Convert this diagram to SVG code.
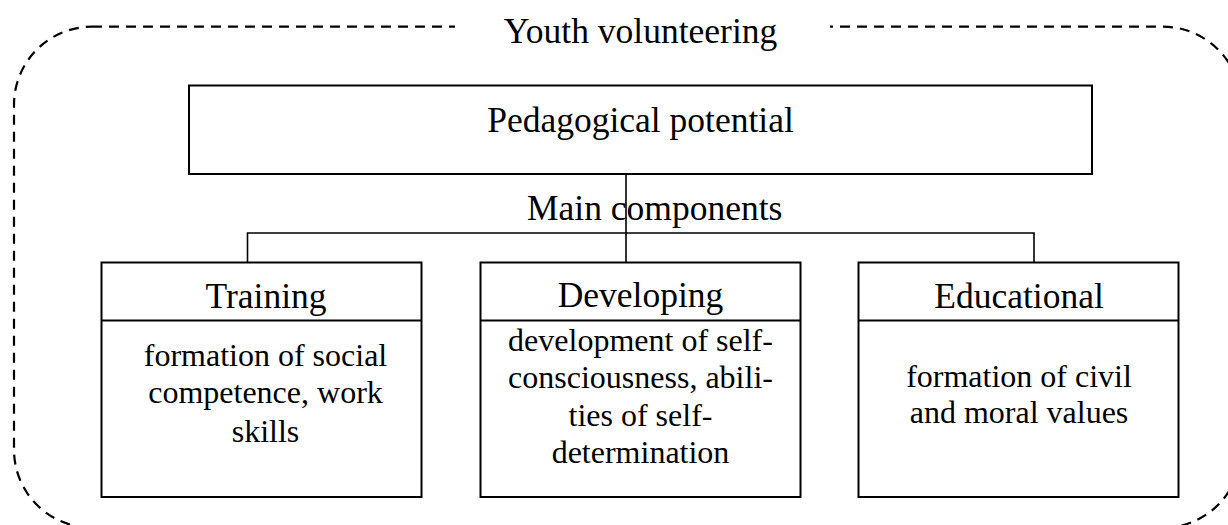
<svg xmlns="http://www.w3.org/2000/svg" width="1228" height="525" viewBox="0 0 1228 525">
<style>
text{font-family:"Liberation Serif","Times New Roman",serif;fill:#000}
.t{font-size:35.5px}
.h{font-size:35.5px;text-anchor:middle}
.b{font-size:32px;text-anchor:middle}
.box{fill:#fff;stroke:#000;stroke-width:2}
.div{stroke:#000;stroke-width:2}
.con{fill:none;stroke:#000;stroke-width:1.6}
</style>
<rect width="1228" height="525" fill="#fff"/>
<g id="frame">
<rect x="14" y="26.7" width="1227" height="501" rx="78" ry="78" fill="none" stroke="#000" stroke-width="2.2" stroke-dasharray="10 7"/>
<rect x="455" y="15" width="375" height="30" fill="#fff"/>
<text class="t" x="640.5" y="42.7" text-anchor="middle">Youth volunteering</text>
</g>
<g id="connectors">
<path class="con" d="M626 174V262.5M247.5 262.5V233H1034V262.5"/>
<text class="t" x="527" y="219.5">Main components</text>
</g>
<g id="pedagogical-potential">
<rect class="box" x="189" y="85.5" width="903" height="88.5"/>
<text class="h" x="640.5" y="131.7">Pedagogical potential</text>
</g>
<g id="training">
<rect class="box" x="101.5" y="262.5" width="320" height="234.5"/>
<line class="div" x1="101.5" y1="320.5" x2="421.5" y2="320.5"/>
<text class="h" x="266" y="308.3">Training</text>
<text class="b" x="265.5" y="365.7">formation of social</text>
<text class="b" x="265.5" y="403.3">competence, work</text>
<text class="b" x="265.5" y="441.7">skills</text>
</g>
<g id="developing">
<rect class="box" x="480.5" y="262.5" width="320" height="234.5"/>
<line class="div" x1="480.5" y1="320.5" x2="800.5" y2="320.5"/>
<text class="h" x="640.5" y="307">Developing</text>
<text class="b" x="640.5" y="350.5">development of self-</text>
<text class="b" x="640.5" y="388">consciousness, abili-</text>
<text class="b" x="640.5" y="425.5">ties of self-</text>
<text class="b" x="640.5" y="463">determination</text>
</g>
<g id="educational">
<rect class="box" x="858.5" y="262.5" width="320" height="234.5"/>
<line class="div" x1="858.5" y1="320.5" x2="1178.5" y2="320.5"/>
<text class="h" x="1019" y="308.3">Educational</text>
<text class="b" x="1019" y="386.7">formation of civil</text>
<text class="b" x="1019" y="423.3">and moral values</text>
</g>
</svg>
